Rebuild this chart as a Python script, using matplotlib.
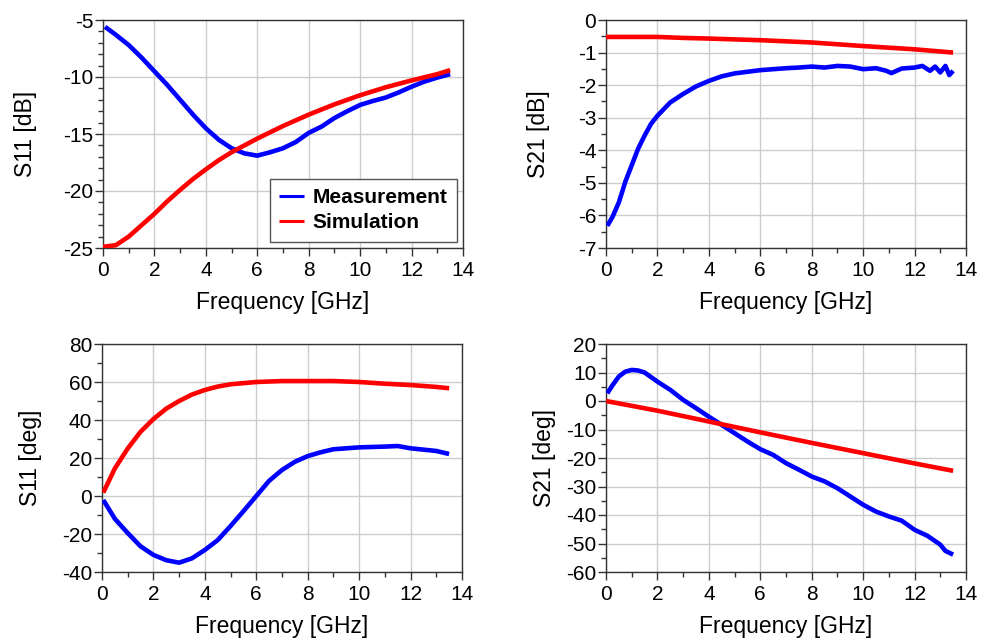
import matplotlib
matplotlib.use("Agg")
import matplotlib.pyplot as plt
from matplotlib.ticker import MultipleLocator

plt.rcParams["font.family"] = ["Liberation Sans", "DejaVu Sans"]
plt.rcParams["axes.unicode_minus"] = False

# ---- S11 magnitude [dB] ----
s11_db_meas_f = [0.08, 0.5, 1.0, 1.5, 2.0, 2.5, 3.0, 3.5, 4.0, 4.5, 5.0, 5.5, 6.0, 6.5,
                 7.0, 7.5, 8.0, 8.5, 9.0, 9.5, 10.0, 10.5, 11.0, 11.5, 12.0, 12.5, 13.0, 13.5]
s11_db_meas = [-5.6, -6.3, -7.2, -8.3, -9.5, -10.7, -12.0, -13.3, -14.5, -15.5, -16.25,
               -16.7, -16.9, -16.6, -16.25, -15.7, -14.9, -14.35, -13.6, -13.0, -12.45,
               -12.1, -11.8, -11.35, -10.85, -10.4, -10.05, -9.75]
s11_db_sim_f = [0.0, 0.5, 1.0, 1.5, 2.0, 2.5, 3.0, 3.5, 4.0, 4.5, 5.0, 5.5, 6.0, 6.5,
                7.0, 7.5, 8.0, 9.0, 10.0, 11.0, 12.0, 13.0, 13.5]
s11_db_sim = [-24.9, -24.75, -24.0, -23.0, -22.0, -20.9, -19.9, -18.95, -18.1, -17.3,
              -16.6, -16.0, -15.4, -14.85, -14.3, -13.8, -13.3, -12.4, -11.6, -10.9,
              -10.3, -9.75, -9.4]

# ---- S21 magnitude [dB] ----
s21_db_meas_f = [0.05, 0.25, 0.5, 0.75, 1.0, 1.25, 1.5, 1.75, 2.0, 2.5, 3.0, 3.5, 4.0,
                 4.5, 5.0, 5.5, 6.0, 6.5, 7.0, 7.5, 8.0, 8.5, 9.0, 9.5, 10.0, 10.5, 10.9,
                 11.1, 11.5, 12.0, 12.3, 12.6, 12.8, 13.0, 13.2, 13.35, 13.5]
s21_db_meas = [-6.32, -6.05, -5.6, -4.97, -4.46, -3.95, -3.55, -3.19, -2.94, -2.53, -2.27,
               -2.04, -1.87, -1.73, -1.64, -1.59, -1.54, -1.51, -1.48, -1.46, -1.43, -1.46,
               -1.41, -1.43, -1.51, -1.48, -1.56, -1.63, -1.49, -1.46, -1.41, -1.56, -1.43,
               -1.61, -1.41, -1.69, -1.56]
s21_db_sim_f = [0.0, 2.0, 3.0, 4.0, 6.0, 8.0, 10.0, 12.0, 13.5]
s21_db_sim = [-0.52, -0.52, -0.55, -0.57, -0.62, -0.69, -0.8, -0.9, -1.0]

# ---- S11 phase [deg] ----
s11_deg_meas_f = [0.05, 0.5, 1.0, 1.5, 2.0, 2.5, 3.0, 3.5, 4.0, 4.5, 5.0, 5.5, 6.0, 6.5,
                  7.0, 7.5, 8.0, 8.5, 9.0, 10.0, 11.0, 11.5, 12.0, 13.0, 13.5]
s11_deg_meas = [-2.1, -12.0, -19.5, -26.5, -31.0, -33.8, -35.1, -32.8, -28.4, -23.2, -15.8,
                -8.0, 0.0, 8.0, 13.7, 18.0, 21.0, 23.0, 24.6, 25.6, 26.0, 26.3, 25.1,
                23.7, 22.1]
s11_deg_sim_f = [0.05, 0.5, 1.0, 1.5, 2.0, 2.5, 3.0, 3.5, 4.0, 4.5, 5.0, 6.0, 7.0, 8.0,
                 9.0, 10.0, 11.0, 12.0, 13.0, 13.5]
s11_deg_sim = [1.8, 14.5, 25.0, 33.8, 40.5, 46.0, 50.0, 53.4, 55.8, 57.6, 58.8, 60.0,
               60.5, 60.5, 60.5, 60.0, 59.1, 58.4, 57.4, 56.7]

# ---- S21 phase [deg] ----
s21_deg_meas_f = [0.05, 0.25, 0.5, 0.75, 1.0, 1.25, 1.5, 2.0, 2.5, 3.0, 3.5, 4.0, 4.5, 5.0,
                  5.5, 6.0, 6.5, 7.0, 7.5, 8.0, 8.5, 9.0, 9.5, 10.0, 10.5, 11.0, 11.5,
                  12.0, 12.5, 13.0, 13.2, 13.5]
s21_deg_meas = [2.7, 5.5, 8.6, 10.3, 10.9, 10.7, 10.0, 6.8, 3.9, 0.4, -2.5, -5.5, -8.4,
                -11.3, -14.2, -16.9, -18.9, -21.8, -24.1, -26.5, -28.2, -30.6, -33.5,
                -36.4, -38.8, -40.5, -42.0, -45.2, -47.3, -50.4, -52.6, -53.9]
s21_deg_sim_f = [0.0, 2.0, 4.0, 6.0, 8.0, 10.0, 12.0, 13.5]
s21_deg_sim = [0.0, -3.4, -7.2, -11.0, -14.7, -18.3, -21.9, -24.5]

# panel settings: (ylabel, ylim, major step, minor step)
panels = [
    ("S11 [dB]", (-25, -5), 5, 1),
    ("S21 [dB]", (-7, 0), 1, 0.5),
    ("S11 [deg]", (-40, 80), 20, 10),
    ("S21 [deg]", (-60, 20), 10, 5),
]
series = [
    (s11_db_meas_f, s11_db_meas, s11_db_sim_f, s11_db_sim),
    (s21_db_meas_f, s21_db_meas, s21_db_sim_f, s21_db_sim),
    (s11_deg_meas_f, s11_deg_meas, s11_deg_sim_f, s11_deg_sim),
    (s21_deg_meas_f, s21_deg_meas, s21_deg_sim_f, s21_deg_sim),
]

W, H = 991, 640
rects = [(103, 20), (606, 20), (102, 344), (606, 344)]
ylabel_x = [25, 539, 31, 544]
aw, ah = 360, 228

fig = plt.figure(figsize=(W / 100, H / 100), dpi=100)
fig.patch.set_facecolor("white")

for i, ((lbl, ylim, maj, mnr), (mf, mv, sf, sv)) in enumerate(zip(panels, series)):
    x0, y0 = rects[i]
    ax = fig.add_axes([x0 / W, 1 - (y0 + ah) / H, aw / W, ah / H])
    ax.plot(mf, mv, color="#0000ff", lw=3.3, solid_capstyle="butt",
            solid_joinstyle="round", label="Measurement", zorder=3)
    ax.plot(sf, sv, color="#ff0000", lw=3.3, solid_capstyle="butt",
            solid_joinstyle="round", label="Simulation", zorder=3)
    ax.set_xlim(0, 14)
    ax.set_ylim(*ylim)
    ax.xaxis.set_major_locator(MultipleLocator(2))
    ax.xaxis.set_minor_locator(MultipleLocator(1))
    ax.yaxis.set_major_locator(MultipleLocator(maj))
    ax.yaxis.set_minor_locator(MultipleLocator(mnr))
    ax.grid(True, which="major", color="#cccccc", lw=1.0, zorder=0)
    ax.set_axisbelow(True)
    for sp in ax.spines.values():
        sp.set_color("#333333")
        sp.set_linewidth(1.0)
    ax.tick_params(which="major", direction="out", length=6, width=1.0, color="#333333",
                   labelsize=15, pad=3)
    ax.tick_params(which="minor", direction="out", length=3.5, width=1.0, color="#333333")
    ax.tick_params(axis="y", which="major", pad=1)
    ax.set_xlabel("Frequency [GHz]", fontsize=16.5, va="center")
    ax.xaxis.set_label_coords(0.5, -54 / ah)
    ax.set_ylabel(lbl, fontsize=16.5, va="center")
    ax.yaxis.set_label_coords((ylabel_x[i] - x0) / aw, 0.5)
    if i == 0:
        leg = ax.legend(loc="lower right", prop={"weight": "bold", "size": 15},
                        frameon=True, fancybox=False, framealpha=1, edgecolor="#555555",
                        handlelength=1.2, handletextpad=0.4, labelspacing=0.3,
                        borderpad=0.45, borderaxespad=0.3)
        leg.get_frame().set_linewidth(1.0)
        for h in leg.get_lines():
            h.set_linewidth(2.2)

fig.savefig("out.png", dpi=100, facecolor="white")
